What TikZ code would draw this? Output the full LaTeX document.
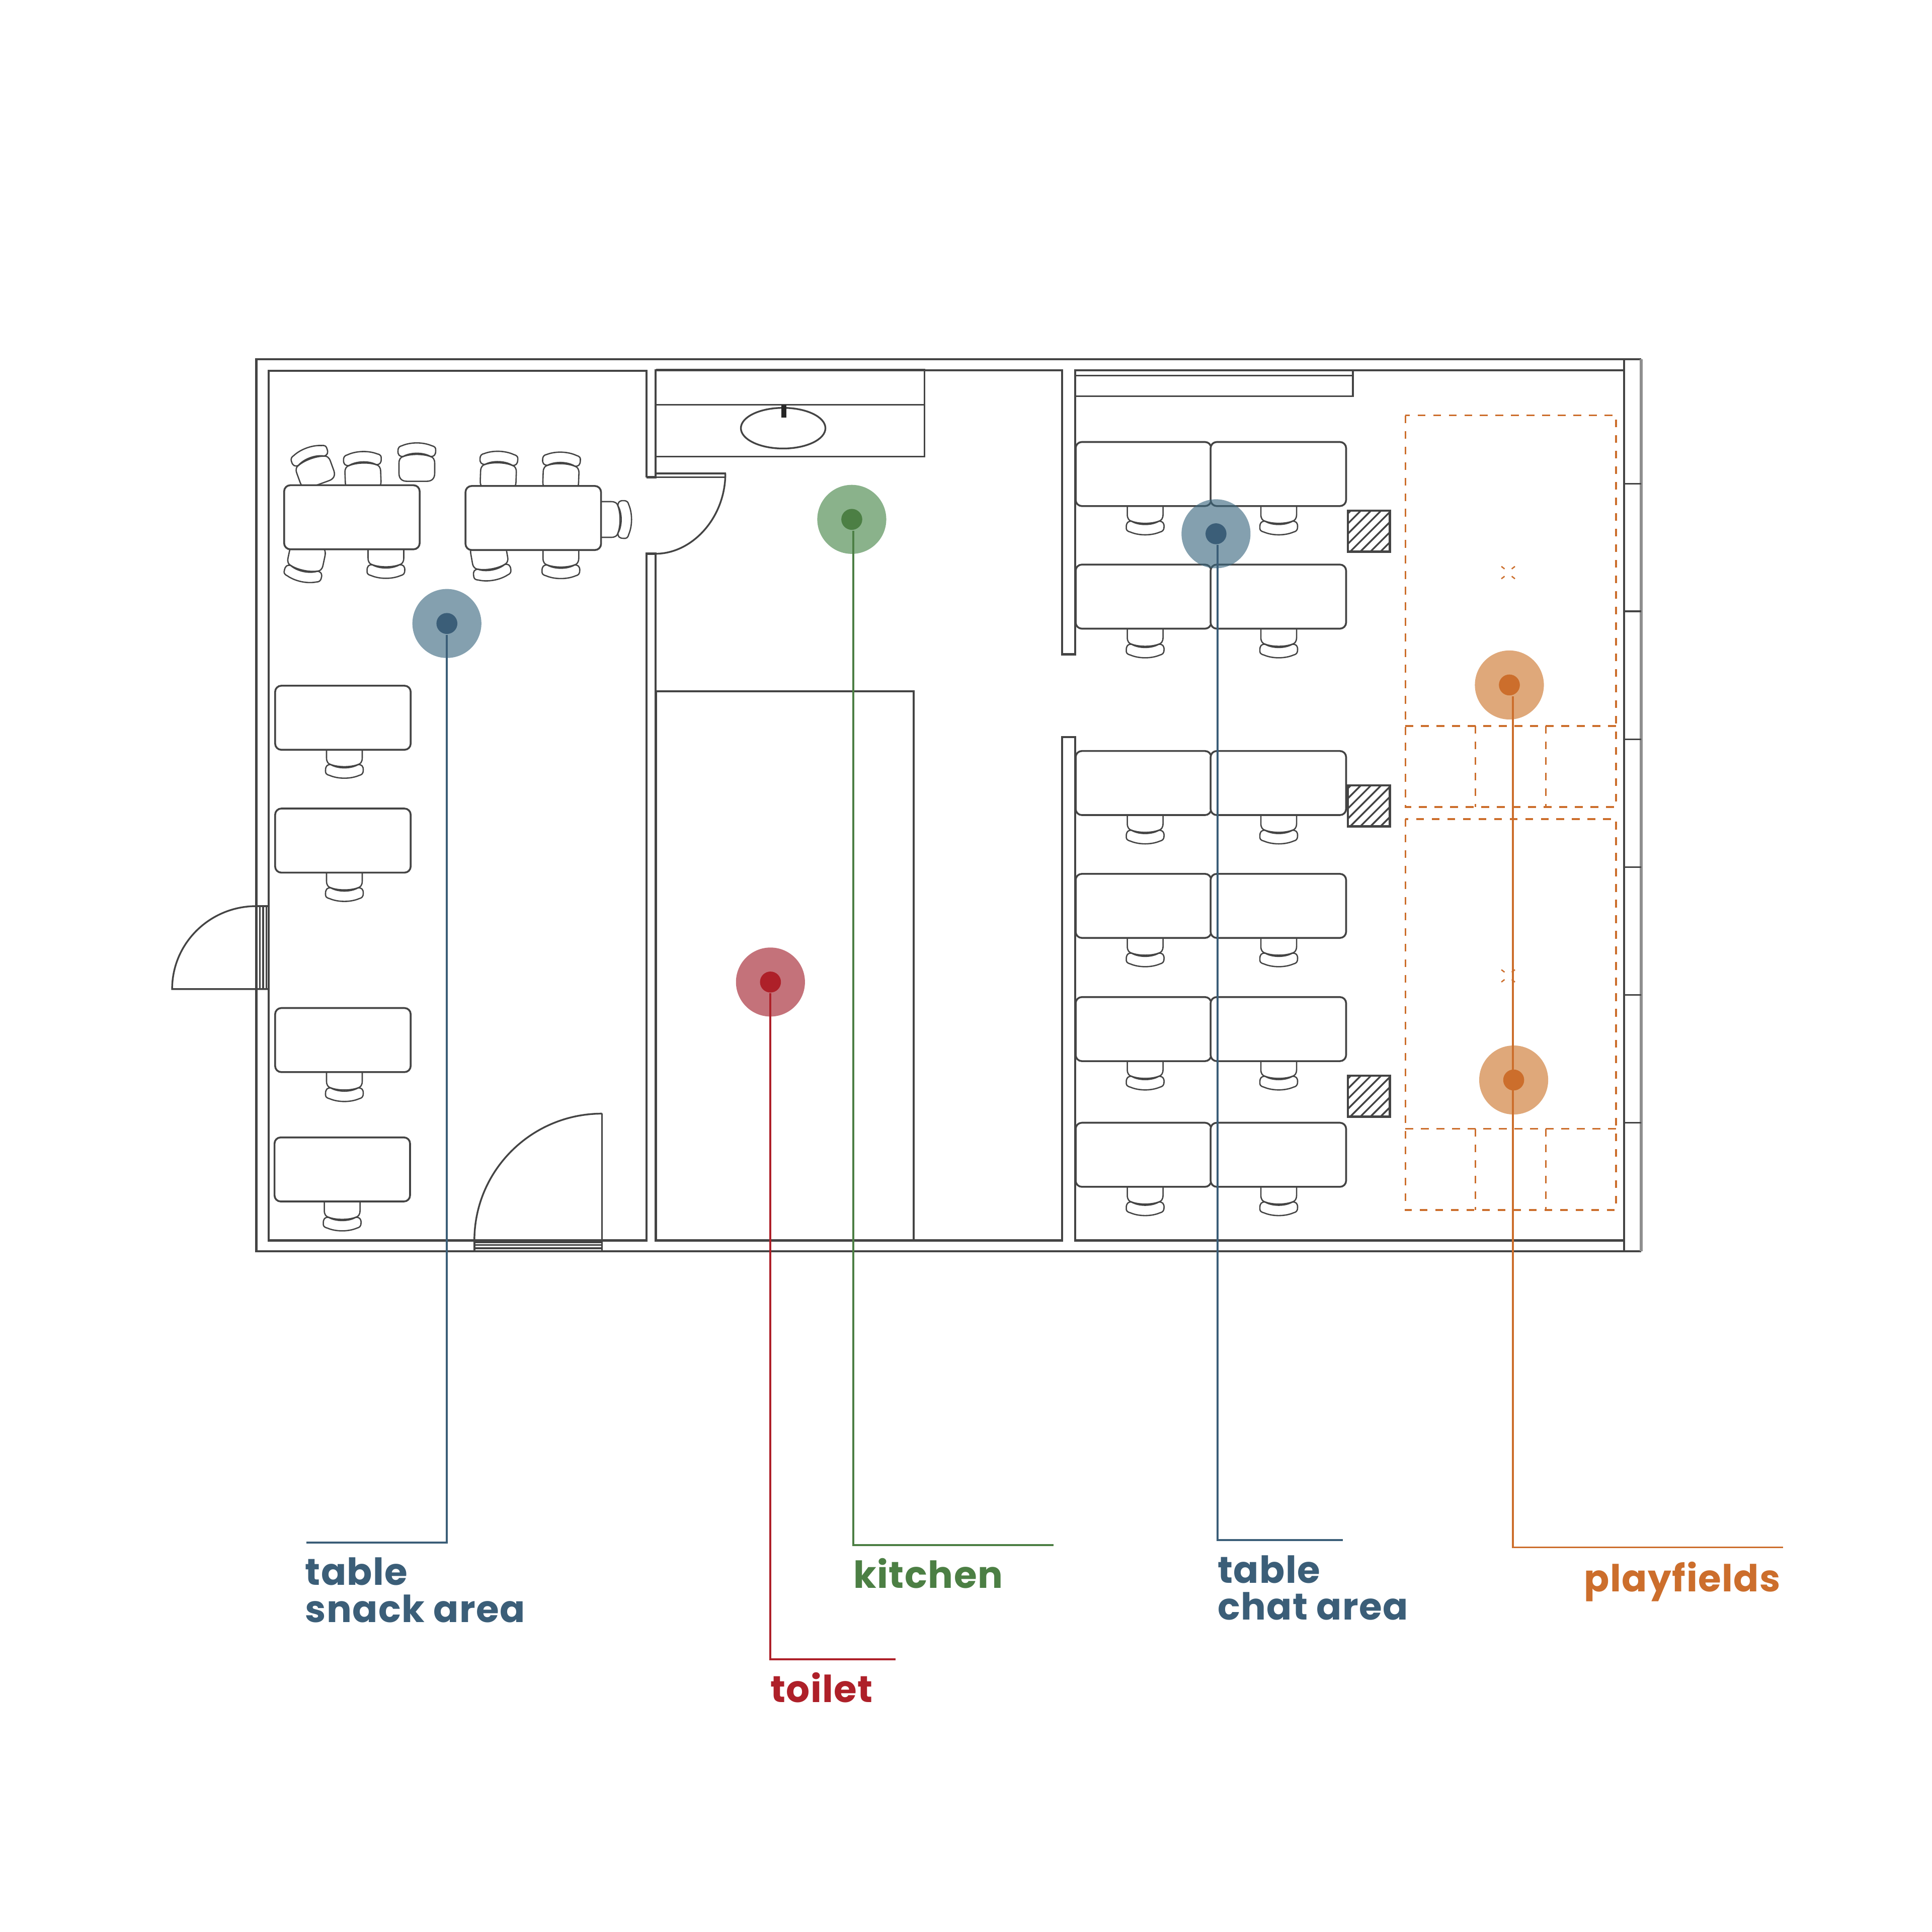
\documentclass[tikz,border=0pt]{standalone}
\usepackage{fontspec}
\setmainfont{Poppins}
\newfontfamily\tagfont{Poppins}[LetterSpace=2.0]
\usetikzlibrary{positioning}

\definecolor{snackblue}{HTML}{3B5E78}
\definecolor{kitchengreen}{HTML}{4C7F44}
\definecolor{toiletred}{HTML}{AE2029}
\definecolor{playorange}{HTML}{CC6E2C}
\definecolor{snackhaze}{HTML}{39667E}
\definecolor{kitchenhaze}{HTML}{428344}
\definecolor{toilethaze}{HTML}{A01C28}
\definecolor{playhaze}{HTML}{CB7328}
\definecolor{planline}{HTML}{444444}

\tikzset{
  wall/.style={draw=planline, line width=.5pt},
  thin wall/.style={draw=planline, line width=.4pt},
  desk/.style={draw=planline, fill=white, line width=.42pt, rounded corners=.5mm},
  hatchbox/.style={draw=planline, line width=.5pt},
  field/.style={draw=playorange, line width=.38pt, dash pattern=on 1.8pt off 1.8pt},
  halo/.style={circle, fill=#1, opacity=.62, minimum size=5.6mm, inner sep=0pt},
  dot/.style={circle, fill=#1, minimum size=1.7mm, inner sep=0pt},
  leader/.style={draw=#1, line width=.45pt},
  tag/.style={text=#1, font=\fontsize{8.6}{8.5}\tagfont\bfseries, inner sep=0pt, align=left},
  chairpic/.pic={
    \draw[fill=white, draw=planline, line width=.3pt]
      (-14.5,-1) -- (-14.5,7) .. controls (-14.5,10.5) and (-13,12) .. (-11,12.5)
      .. controls (-5,14.8) and (5,14.8) .. (11,12.5)
      .. controls (13,12) and (14.5,10.5) .. (14.5,7) -- (14.5,-1)
      .. controls (14.5,-5.5) and (12,-7.6) .. (8,-7.6) -- (-8,-7.6)
      .. controls (-12,-7.6) and (-14.5,-5.5) .. (-14.5,-1) -- cycle;
    \draw[fill=white, draw=planline, line width=.3pt]
      (-11,12.6) .. controls (-5,16) and (5,16) .. (11,12.6)
      .. controls (14,12.2) and (15.5,14) .. (15.3,17)
      .. controls (15.3,20) and (14,20.8) .. (12,21.3)
      .. controls (5,24.3) and (-5,24.3) .. (-12,21.3)
      .. controls (-15,20.5) and (-15.5,19.5) .. (-15.3,17)
      .. controls (-15.3,14) and (-14,12.2) .. (-11,12.6) -- cycle;
  }
}

\begin{document}
\begin{tikzpicture}[x=.1mm, y=-.1mm]

\useasboundingbox (0,0) rectangle (1568,1568);

% outer walls
\draw[wall] (1332,291.5) -- (208,291.5) -- (208,1015.6) -- (1332,1015.6);
\draw[draw=planline!60, line width=.7pt] (1332,291.5) -- (1332,1015.6);
\draw[wall] (1318,291.5) -- (1318,1015.6);
\foreach \y in {392.6,496.2,600.1,703.8,807.5,911.2}
  \draw[thin wall] (1318,\y) -- (1332,\y);

% inner walls
\draw[wall] (524.6,387.3) -- (524.6,300.8) -- (218,300.8) -- (218,1006.7) -- (524.6,1006.7)
  -- (524.6,449.4) -- (532,449.4) -- (532,1006.7) -- (862,1006.7) -- (862,598.3) -- (872.5,598.3)
  -- (872.5,1006.7) -- (1318,1006.7);
\draw[wall] (1318,300.6) -- (872.5,300.6) -- (872.5,531) -- (862,531) -- (862,300.6) -- (532,300.6)
  -- (532,387.3) -- (524.6,387.3);

% doors
\draw[thin wall] (532,384.3) -- (588.7,384.3) -- (588.7,387.2) -- (532,387.2);
\draw[thin wall] (588.7,384.3) .. controls (588.7,420) and (562,449.4) .. (532,449.4);
\foreach \x in {211,213.6,216.2}
  \draw[thin wall] (\x,735.4) -- (\x,802.7);
\draw[thin wall] (208,735.4) -- (218,735.4);
\draw[thin wall] (218,802.7) -- (139.7,802.7) arc[start angle=180, end angle=90, x radius=68.3, y radius=-67.3];
\foreach \y in {1008.4,1010.4,1013}
  \draw[thin wall] (385,\y) -- (488.6,\y);
\draw[thin wall] (385,1006.7) -- (385,1015.6);
\draw[thin wall] (488.6,1015.6) -- (488.6,903.8);
\draw[thin wall] (385,1006.7) arc[start angle=180, end angle=90, x radius=103.6, y radius=-102.9];

% kitchen
\draw[thin wall] (532.4,300.1) -- (750.4,300.1) -- (750.4,370.5) -- (532.4,370.5);
\draw[thin wall] (532.4,328.5) -- (750.4,328.5);
\draw[thin wall] (635.6,347.5) ellipse [x radius=34.3, y radius=16.5];
\fill[black!85] (634,328.5) rectangle (638.2,339);

% toilet
\draw[wall] (532.5,1006.7) -- (532.5,561) -- (741.5,561) -- (741.5,1006.7);

% shelf
\draw[thin wall] (872.5,304.8) -- (1098,304.8) -- (1098,321.5) -- (872.5,321.5);
\draw[thin wall] (1098,300.6) -- (1098,304.8);

% chairs of the snack area
\foreach \x/\y/\r in {256.9/385.7/200, 294.7/390/182, 338.3/383/180, 404.3/389.8/178, 455.1/390.5/178,
    249.4/449/-12, 313.2/445.8/0, 396.5/447.7/10, 455.2/446/0, 489/421.6/90,
    279.5/608/0, 279.5/708/0, 279.5/870.4/0, 277.7/975.4/0}
  \pic[rotate=\r] at (\x,\y) {chairpic};

% chairs of the chat area
\foreach \y in {410.5,510.3,661.3,761,861,963}
  \foreach \x in {929.4,1037.8}
    \pic at (\x,\y) {chairpic};

% tables
\foreach \x/\y in {230.6/393.8, 377.8/394.4, 223.3/556.5, 223.3/656.2, 223.3/818.1, 222.8/923.1}
  \draw[desk] (\x,\y) rectangle ++(110,52);
\foreach \y in {358.7,458.2,609.5,709.2,809.2,911.2}
  \foreach \x in {873,982.5}
    \draw[desk] (\x,\y) rectangle ++(110,52);

% hatched boxes
\foreach \y in {414.4,637.4,873}{
  \begin{scope}
    \clip (1094,\y) rectangle ++(34,33.3);
    \foreach \d in {-31,-22.8,-14.6,-6.4,1.8,10,18.2,26.4}
      \draw[thin wall] (1094+\d,\y+33.3) -- ++(34,-34);
  \end{scope}
  \draw[hatchbox] (1094,\y) rectangle ++(34,33.3);
}

% playfields
\foreach \a/\b/\c in {337.1/589.2/655, 664.7/916.2/982}{
  \draw[field] (1140.6,\a) rectangle (1311.6,\c);
  \draw[field] (1140.6,\b) -- (1311.6,\b);
  \draw[field] (1197.5,\b) -- (1197.5,\c);
  \draw[field] (1254.7,\b) -- (1254.7,\c);
}
\foreach \x/\y in {1224/464.7, 1224/792}
  \foreach \sx/\sy in {-1/-1, 1/-1, -1/1, 1/1}
    \draw[draw=playorange, line width=.3pt] (\x+5.5*\sx,\y+5*\sy) -- ++(-2.6*\sx,-2*\sy);

% markers
\node[halo=snackhaze] (snackhalo) at (362.7,506) {};
\node[dot=snackblue] (snackdot) at (362.7,506) {};
\node[halo=kitchenhaze] (kitchenhalo) at (691.3,421.5) {};
\node[dot=kitchengreen] (kitchendot) at (691.3,421.5) {};
\node[halo=toilethaze] (toilethalo) at (625.3,797) {};
\node[dot=toiletred] (toiletdot) at (625.3,797) {};
\node[halo=snackhaze] (chathalo) at (986.9,433.2) {};
\node[dot=snackblue] (chatdot) at (986.9,433.2) {};
\node[halo=playhaze] (playhalo) at (1225,555.9) {};
\node[dot=playorange] (playdot) at (1225,555.9) {};
\node[halo=playhaze] (playhalob) at (1228.5,876.5) {};
\node[dot=playorange] (playdotb) at (1228.5,876.5) {};

% leaders and labels
\coordinate (snackcorner) at (362.6,1251.8);
\coordinate (snackend) at (248.7,1251.8);
\coordinate (kitchencorner) at (692.7,1254);
\coordinate (kitchenend) at (855,1254);
\coordinate (toiletcorner) at (625,1346.5);
\coordinate (toiletend) at (727,1346.5);
\coordinate (chatcorner) at (988,1250);
\coordinate (chatend) at (1090,1250);
\coordinate (playcorner) at (1228,1255.8);
\coordinate (playend) at (1447,1255.8);

\draw[leader=snackblue] (snackdot.south -| snackcorner) -- (snackcorner) -- (snackend);
\draw[leader=kitchengreen] (kitchendot.south -| kitchencorner) -- (kitchencorner) -- (kitchenend);
\draw[leader=toiletred] (toiletdot.south -| toiletcorner) -- (toiletcorner) -- (toiletend);
\draw[leader=snackblue] (chatdot.south -| chatcorner) -- (chatcorner) -- (chatend);
\draw[leader=playorange] (playdot.south -| playcorner) -- (playcorner) -- (playend);

\node[tag=snackblue, anchor=base west] (snacktag) at (247,1316.5) {table\\snack area};
\node[tag=kitchengreen, anchor=base west] (kitchentag) at (692,1288.7) {kitchen};
\node[tag=toiletred, anchor=base west] (toilettag) at (624.5,1381.5) {toilet};
\node[tag=snackblue, anchor=base west] (chattag) at (987.5,1314.6) {table\\chat area};
\node[tag=playorange, anchor=base east] (playtag) at (1445.7,1291.7) {playfields};

\end{tikzpicture}
\end{document}
